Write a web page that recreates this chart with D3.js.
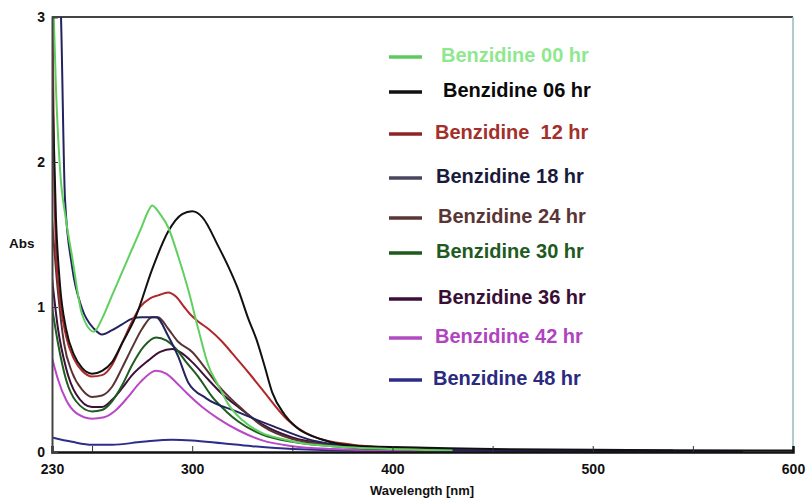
<!DOCTYPE html>
<html>
<head>
<meta charset="utf-8">
<script src="https://cdn.jsdelivr.net/npm/d3@7"></script>
<style>
  body { margin: 0; background: #fff; }
  svg { display: block; }
  text { font-family: "Liberation Sans", Arial, sans-serif; font-weight: bold; }
</style>
</head>
<body>
<div id="chart"></div>
<script>
// absorbance readings [wavelength nm, Abs]
var hr00 = [[230,3.4],[232,2.5],[234,1.95],[237,1.6],[240,1.35],[245,0.95],[251,0.83],[255,0.92],[260,1.08],[265,1.24],[270,1.40],[275,1.56],[278,1.66],[280,1.70],[284,1.64],[288,1.55],[293,1.35],[298,1.12],[303,0.85],[308,0.6],[313,0.46],[318,0.33],[325,0.22],[335,0.13],[345,0.09],[355,0.06],[370,0.04],[400,0.02],[430,0.01]];
var hr06 = [[230,2.6],[232,1.6],[234,1.15],[237,0.85],[241,0.67],[245,0.58],[250,0.54],[255,0.56],[260,0.62],[265,0.75],[272,0.94],[280,1.26],[288,1.52],[295,1.64],[300,1.66],[305,1.62],[313,1.42],[318,1.28],[323,1.12],[328,0.92],[332,0.78],[336,0.6],[340,0.41],[346,0.26],[352,0.17],[364,0.09],[384,0.04],[417,0.03],[450,0.02],[500,0.015],[600,0.01]];
var hr12 = [[230,3.4],[231,2.0],[232,1.4],[234,1.05],[237,0.8],[241,0.64],[245,0.56],[250,0.52],[255,0.53],[260,0.6],[265,0.75],[270,0.9],[274,1.0],[279,1.06],[283,1.08],[288,1.1],[292,1.07],[296,1.0],[299,0.95],[303,0.9],[308,0.85],[315,0.76],[320,0.68],[328,0.55],[335,0.43],[347,0.23],[360,0.11],[380,0.05],[400,0.03],[420,0.02]];
var hr18 = [[230,4.5],[232,3.8],[234.5,3.0],[236.5,1.74],[240,1.28],[245,0.99],[251,0.85],[255,0.81],[260,0.84],[265,0.88],[270,0.92],[275,0.93],[282,0.93],[288,0.80],[293,0.66],[298,0.48],[307,0.37],[322,0.28],[340,0.18],[360,0.08],[380,0.04],[400,0.02],[450,0.01],[540,0.01]];
var hr24 = [[230,1.6],[233,1.1],[236,0.75],[240,0.55],[245,0.43],[250,0.38],[255,0.39],[260,0.45],[265,0.58],[270,0.72],[275,0.85],[280,0.93],[283,0.93],[288,0.85],[293,0.76],[300,0.69],[307,0.57],[313,0.46],[323,0.32],[335,0.18],[350,0.09],[370,0.05],[400,0.03],[420,0.02]];
var hr30 = [[230,1.0],[233,0.75],[237,0.5],[242,0.35],[250,0.28],[255,0.29],[260,0.35],[265,0.46],[270,0.6],[276,0.73],[282,0.79],[287,0.77],[292,0.71],[297,0.62],[303,0.52],[310,0.38],[317,0.28],[323,0.21],[335,0.12],[350,0.07],[370,0.04],[400,0.02],[420,0.02]];
var hr36 = [[230,1.2],[233,0.85],[237,0.58],[242,0.4],[250,0.31],[255,0.31],[260,0.36],[265,0.44],[270,0.53],[278,0.63],[284,0.69],[290,0.71],[295,0.68],[300,0.62],[308,0.5],[315,0.4],[323,0.31],[335,0.19],[350,0.1],[370,0.05],[400,0.02],[420,0.02]];
var hr42 = [[230,0.65],[233,0.5],[237,0.36],[242,0.27],[250,0.23],[256,0.24],[262,0.29],[268,0.38],[274,0.48],[282,0.56],[287,0.54],[292,0.48],[297,0.41],[305,0.31],[313,0.23],[323,0.15],[335,0.08],[350,0.04],[370,0.02],[400,0.01],[460,0.01]];
var hr48 = [[230,0.10],[240,0.07],[250,0.05],[260,0.05],[275,0.07],[290,0.085],[300,0.08],[315,0.06],[330,0.04],[350,0.02],[380,0.01],[420,0.01],[575,0.005]];

var series = [hr00, hr06, hr12, hr18, hr24, hr30, hr36, hr42, hr48];
var labels = ["Benzidine 00 hr", "Benzidine 06 hr", "Benzidine  12 hr", "Benzidine 18 hr", "Benzidine 24 hr",
              "Benzidine 30 hr", "Benzidine 36 hr", "Benzidine 42 hr", "Benzidine 48 hr"];
var xTickLabels = [230, 300, 400, 500, 600];
var xMinorTicks = [250, 350, 450, 550];
var yTickLabels = [0, 1, 2, 3];

var lineColors = ["#5fd05f", "#111111", "#b0282a", "#23235e", "#5a3434", "#1f5c1f", "#3d103b", "#b848c6", "#2c2c8c"];
var legendLineColors = ["#5fc95f", "#111111", "#8e2424", "#4a4660", "#5a3636", "#1e5a1e", "#3b0f3b", "#b04cc0", "#2c2c88"];
var legendTextColors = ["#8fe88f", "#0a0a0a", "#a3302a", "#1a1a3c", "#5a3535", "#1f5a1f", "#3a0f35", "#b044c0", "#2a2a80"];
var legendY = [55, 90, 132, 176, 216, 251, 297, 336, 378];
var legendTextX = [441, 443, 435, 436, 438, 436, 438, 435, 433];

function drawChart() {
  var W = 806, H = 499;
  var pLeft = 52, pRight = 793, pTop = 17, pBottom = 452;

  var svg = d3.select("#chart").append("svg")
      .attr("width", W).attr("height", H);

  var x = d3.scaleLinear().domain([230, 600]).range([pLeft, pRight]);
  var y = d3.scaleLinear().domain([0, 3]).range([pBottom, pTop]);

  svg.append("clipPath").attr("id", "plotclip")
    .append("rect")
      .attr("x", pLeft).attr("y", pTop)
      .attr("width", pRight - pLeft).attr("height", pBottom - pTop);

  // frame
  svg.append("line").attr("x1", pLeft).attr("x2", pRight).attr("y1", pTop).attr("y2", pTop)
      .attr("stroke", "#444").attr("stroke-width", 2);
  svg.append("line").attr("x1", pRight).attr("x2", pRight).attr("y1", pTop).attr("y2", pBottom)
      .attr("stroke", "#9ab8b8").attr("stroke-width", 1.5);

  var line = d3.line()
      .x(function(d) { return x(d[0]); })
      .y(function(d) { return y(d[1]); })
      .curve(d3.curveMonotoneX);

  // draw later series first so the early ones stay on top
  var g = svg.append("g").attr("clip-path", "url(#plotclip)");
  for (var i = series.length - 1; i >= 0; i--) {
    g.append("path")
      .datum(series[i])
      .attr("d", line)
      .attr("fill", "none")
      .attr("stroke", lineColors[i])
      .attr("stroke-width", 2);
  }

  // axes
  var xAxis = d3.axisBottom(x).tickValues(xTickLabels.concat(xMinorTicks)).tickSize(-6)
      .tickFormat(function(d) { return xTickLabels.indexOf(d) >= 0 ? d : ""; });
  var gx = svg.append("g").attr("transform", "translate(0," + pBottom + ")").call(xAxis);
  gx.select(".domain").attr("stroke", "#111").attr("stroke-width", 2.5);
  gx.selectAll(".tick line").attr("stroke", "#333");
  gx.selectAll(".tick text").attr("y", 12).attr("font-size", 14).attr("fill", "#111")
      .attr("font-family", "'Liberation Sans', Arial, sans-serif").attr("font-weight", "bold");
  gx.selectAll(".tick").filter(function(d) { return d === 230 || d === 600; }).select("line").remove();

  var yAxis = d3.axisLeft(y).tickValues(yTickLabels).tickSize(-6).tickPadding(7)
      .tickFormat(d3.format("d"));
  var gy = svg.append("g").attr("transform", "translate(" + pLeft + ",0)").call(yAxis);
  gy.select(".domain").attr("stroke", "#444").attr("stroke-width", 2);
  gy.selectAll(".tick line").attr("stroke", "#333");
  gy.selectAll(".tick text").attr("font-size", 14).attr("fill", "#111")
      .attr("font-family", "'Liberation Sans', Arial, sans-serif").attr("font-weight", "bold");
  gy.selectAll(".tick").filter(function(d) { return d === 0 || d === 3; }).select("line").remove();

  svg.append("text").attr("x", 9).attr("y", 248).attr("font-size", 13.5).attr("fill", "#111").text("Abs");
  svg.append("text").attr("x", 422).attr("y", 495).attr("text-anchor", "middle")
      .attr("font-size", 13).attr("fill", "#111").text("Wavelength [nm]");

  // legend
  var leg = svg.append("g");
  labels.forEach(function(name, i) {
    leg.append("line")
      .attr("x1", 389).attr("x2", 422)
      .attr("y1", legendY[i] + 2).attr("y2", legendY[i] + 2)
      .attr("stroke", legendLineColors[i]).attr("stroke-width", 3.5);
    leg.append("text")
      .attr("x", legendTextX[i]).attr("y", legendY[i])
      .attr("dy", "0.35em")
      .attr("font-size", 20)
      .attr("fill", legendTextColors[i])
      .style("white-space", "pre")
      .text(name);
  });
}

drawChart();
</script>
</body>
</html>
